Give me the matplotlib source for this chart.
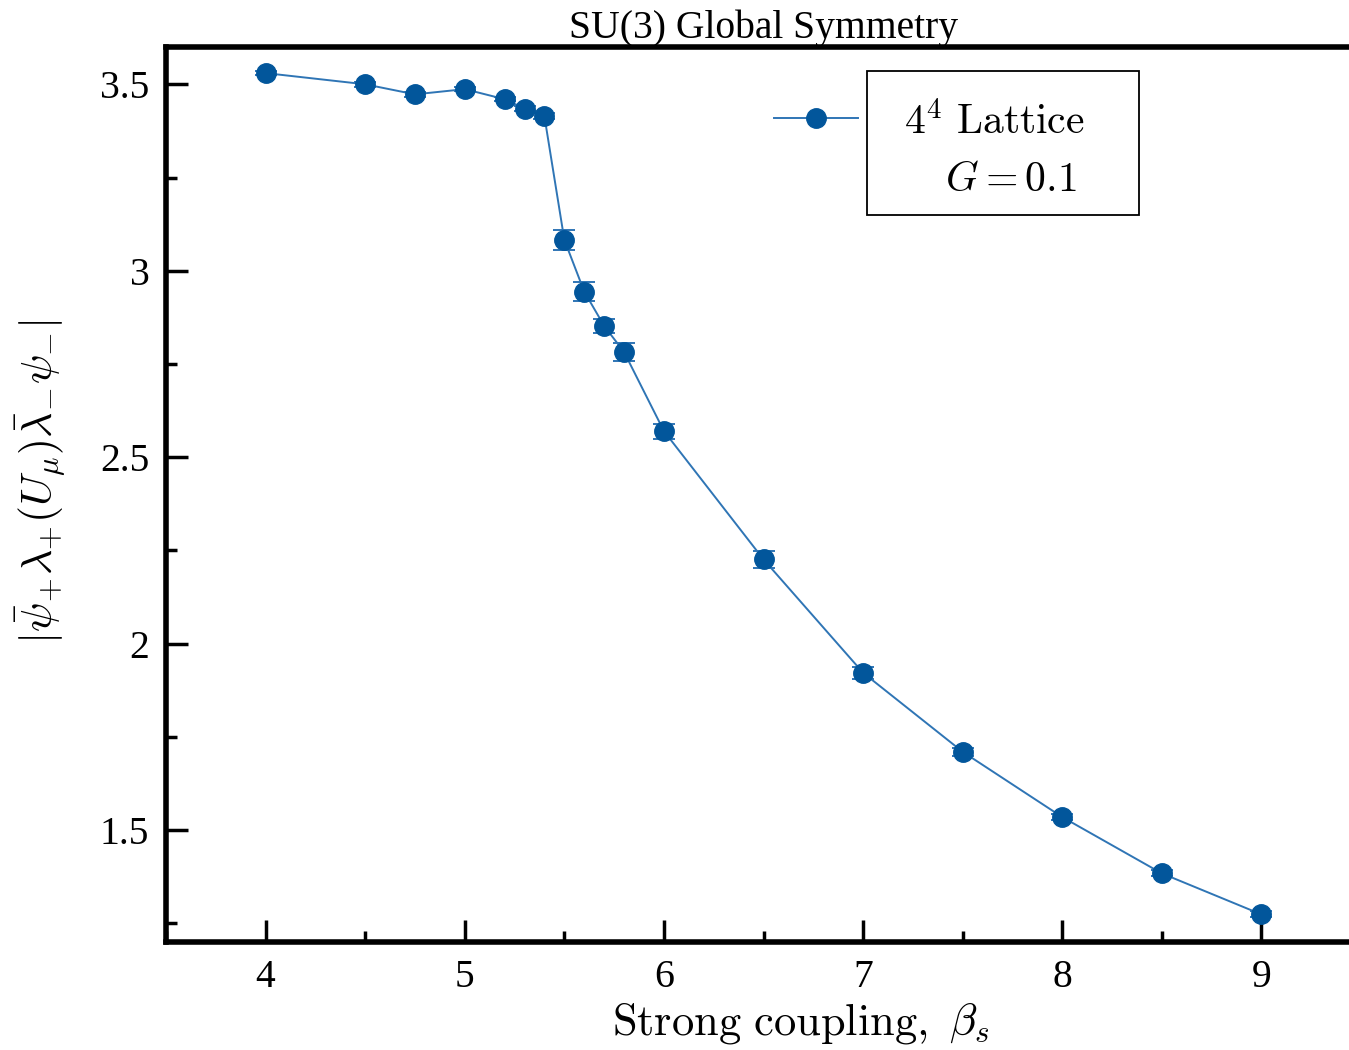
import matplotlib
matplotlib.use("Agg")
import matplotlib.pyplot as plt
from matplotlib.ticker import MultipleLocator, FuncFormatter
from matplotlib.patches import Rectangle

plt.rcParams['mathtext.fontset'] = 'cm'
plt.rcParams['font.family'] = ['Liberation Serif', 'DejaVu Serif']

beta = [4.0, 4.5, 4.75, 5.0, 5.2, 5.3, 5.4, 5.5, 5.6, 5.7, 5.8, 6.0, 6.5, 7.0, 7.5, 8.0, 8.5, 9.0]
value = [3.530, 3.500, 3.473, 3.487, 3.460, 3.435, 3.414, 3.083, 2.944, 2.852, 2.782,
         2.570, 2.226, 1.922, 1.710, 1.535, 1.384, 1.274]
error = [0.006, 0.006, 0.006, 0.006, 0.006, 0.006, 0.008, 0.027, 0.025, 0.019, 0.024,
         0.020, 0.022, 0.016, 0.010, 0.008, 0.008, 0.008]

title = "SU(3) Global Symmetry"
xlabel = r"$\mathrm{Strong\ coupling,}\ \beta_s$"
ylabel = r"$|\bar{\psi}_{+}\lambda_{+}(U_{\mu})\bar{\lambda}_{-}\psi_{-}|$"
legend_line1 = r"$4^4\ \mathrm{Lattice}$"
legend_line2 = r"$G = 0.1$"

W, H = 1349, 1050
fig = plt.figure(figsize=(W / 100, H / 100), dpi=100)
left, right, top, bottom = 166, 1361, 47, 942
ax = fig.add_axes([left / W, 1 - bottom / H, (right - left) / W, (bottom - top) / H])

mcol = '#02569b'
lcol = '#2f75b5'
ax.plot(beta, value, color=lcol, lw=1.4, zorder=2)
ax.errorbar(beta, value, yerr=error, fmt='none', ecolor=lcol, elinewidth=1.4,
            capsize=8, capthick=1.4, zorder=3)
ax.plot(beta, value, ls='none', marker='o', ms=14, color=mcol, zorder=4)
h, = ax.plot([], [], color=lcol, lw=1.4, marker='o', ms=14, mfc=mcol, mec=mcol)

ax.set_xlim(3.5, 9.5)
ax.set_ylim(1.2, 3.6)
ax.xaxis.set_major_locator(MultipleLocator(1))
ax.xaxis.set_minor_locator(MultipleLocator(0.5))
ax.yaxis.set_major_locator(MultipleLocator(0.5))
ax.yaxis.set_minor_locator(MultipleLocator(0.25))
ax.yaxis.set_major_formatter(FuncFormatter(lambda v, p: f"{v:g}"))
ax.xaxis.set_major_formatter(FuncFormatter(lambda v, p: f"{v:g}"))

for s in ax.spines.values():
    s.set_linewidth(4)
ax.tick_params(which='major', direction='in', length=16, width=2.5, labelsize=28.5, pad=12)
ax.tick_params(which='minor', direction='in', length=8, width=2.5)
ax.tick_params(top=False, right=False)

ax.set_title(title, fontsize=28.5, pad=0)
ax.set_xlabel(xlabel, fontsize=32)
ax.xaxis.set_label_coords(0.531, -0.066)
ax.set_ylabel(ylabel, fontsize=31.5)
ax.yaxis.set_label_coords(-0.082, 0.514)

# legend handle (outside the framed label, as in the original)
leg = ax.legend([h], [''], loc='center', bbox_to_anchor=(0.544, 0.916),
                borderaxespad=0, frameon=False, fontsize=32,
                handlelength=1.9, handletextpad=0)
# framed legend text
ax.add_patch(Rectangle((0.5866, 0.8123), 0.2276, 0.1609, transform=ax.transAxes,
                       fc='white', ec='black', lw=1.3, zorder=5))
ax.text(0.6176, 0.915, legend_line1, transform=ax.transAxes, fontsize=30,
        ha='left', va='center', zorder=6)
ax.text(0.6515, 0.851, legend_line2, transform=ax.transAxes, fontsize=30,
        ha='left', va='center', zorder=6)

fig.savefig("out.png", dpi=100)
